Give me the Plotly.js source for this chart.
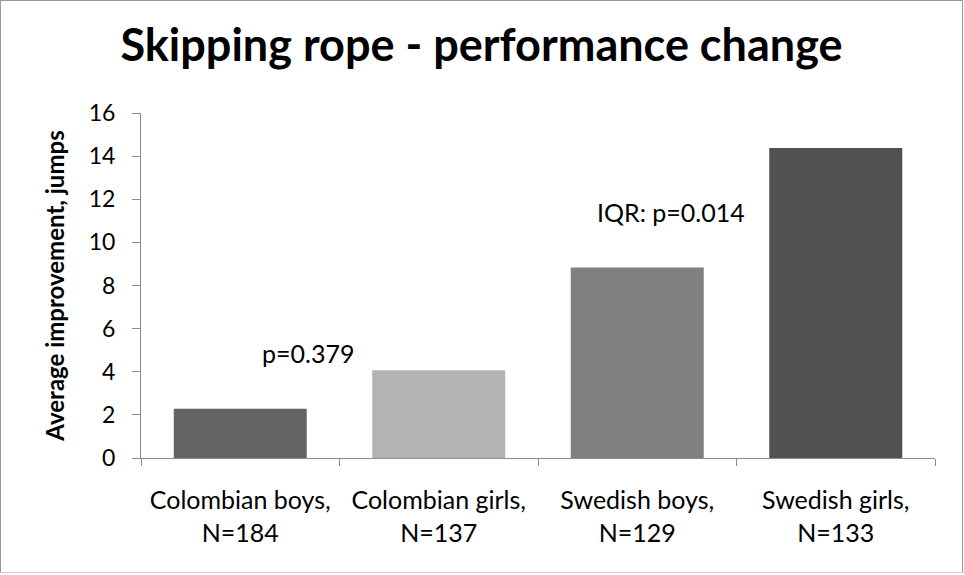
<!DOCTYPE html>
<html>
<head>
<meta charset="utf-8">
<script src="https://cdn.plot.ly/plotly-3.0.1.min.js"></script>
<style>
html,body{margin:0;padding:0;background:#fff;}
#wrap{width:963px;height:573px;box-sizing:border-box;border:1px solid #9a9a9a;border-bottom:1px solid #d0d0d0;overflow:hidden;}
#chart{width:961px;height:571px;}
</style>
</head>
<body>
<div id="wrap"><div id="chart"></div></div>
<script>
const categories = ["Colombian boys,<br>N=184", "Colombian girls,<br>N=137", "Swedish boys,<br>N=129", "Swedish girls,<br>N=133"];
const values = [2.28, 4.07, 8.83, 14.38];
const barColors = ["#646464", "#b3b3b3", "#808080", "#515151"];
const tickVals = [0, 2, 4, 6, 8, 10, 12, 14, 16];
const noteTexts = ["p=0.379", "IQR: p=0.014"];
const noteX = [0.34, 2.17];
const noteY = [4.85, 11.4];

const font = "Lato, 'Open Sans', 'Liberation Sans', sans-serif";

const trace = {
  type: "bar",
  x: [0, 1, 2, 3],
  y: values,
  marker: {color: barColors, line: {width: 0}},
  hoverinfo: "none"
};

const layout = {
  width: 961, height: 571,
  margin: {l: 140, r: 27, t: 112, b: 114},
  paper_bgcolor: "#fff", plot_bgcolor: "#fff",
  showlegend: false,
  bargap: 0.33,
  font: {family: font, color: "#000"},
  title: {
    text: "<b>Skipping rope - performance change</b>",
    font: {family: font, size: 45, color: "#000"},
    x: 0.5, xanchor: "center", xref: "container",
    y: 0.922, yanchor: "middle", yref: "container"
  },
  xaxis: {
    type: "linear",
    range: [-0.5, 3.5],
    tickmode: "array",
    tickvals: [0, 1, 2, 3],
    ticktext: categories,
    showgrid: false, zeroline: false,
    showline: true, linecolor: "#8c8c8c", linewidth: 1,
    ticks: "",
    ticklabelstandoff: 20,
    tickfont: {family: font, size: 25, color: "#000"},
    fixedrange: true
  },
  xaxis2: {
    overlaying: "x", matches: "x", range: [-0.5, 3.5],
    tickmode: "array", tickvals: [-0.5, 0.5, 1.5, 2.5, 3.5],
    showticklabels: false, ticks: "outside", ticklen: 7, tickcolor: "#8c8c8c",
    showgrid: false, zeroline: false, showline: false, side: "bottom",
    anchor: "y"
  },
  yaxis: {
    range: [0, 16],
    tickmode: "array",
    tickvals: tickVals,
    showgrid: false, zeroline: false,
    showline: true, linecolor: "#8c8c8c", linewidth: 1,
    ticks: "outside", ticklen: 8, tickcolor: "#8c8c8c",
    ticklabelstandoff: 12,
    tickfont: {family: font, size: 23, color: "#000"},
    title: {text: "<b>Average improvement, jumps</b>", font: {family: font, size: 24, color: "#000"}, standoff: 17},
    fixedrange: true
  },
  annotations: noteTexts.map((t, i) => ({
    x: noteX[i], y: noteY[i], xref: "x", yref: "y",
    text: t, showarrow: false,
    font: {family: font, size: 25, color: "#000"},
    xanchor: "center", yanchor: "middle"
  }))
};

const helper = {type: "scatter", x: [0], y: [0], xaxis: "x2", yaxis: "y", mode: "markers", marker: {opacity: 0}, hoverinfo: "none"};

Plotly.newPlot("chart", [trace, helper], layout, {displayModeBar: false, staticPlot: true});
</script>
</body>
</html>
